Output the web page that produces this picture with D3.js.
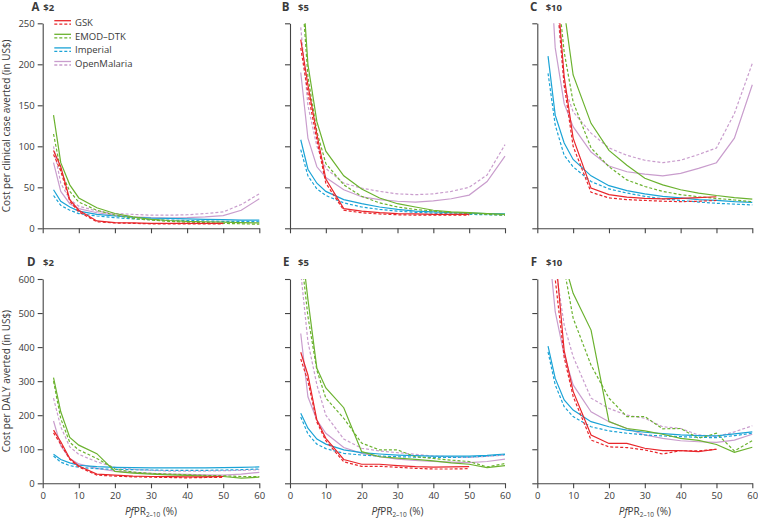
<!DOCTYPE html>
<html><head><meta charset="utf-8">
<script src="https://cdn.jsdelivr.net/npm/d3@7"></script>
<style>
body{margin:0;background:#fff}
svg{display:block}
text{font-family:"Open Sans",sans-serif;fill:#3a3a3a}
</style>
</head><body>
<svg id="c" width="758" height="518"></svg>
<script>
// ---------- data ----------
const pfpr = [3, 5, 7.5, 10, 15, 20, 25, 30, 35, 40, 45, 50, 55, 60];
const xTicks = [0, 10, 20, 30, 40, 50, 60];
const caseTicks = [0, 50, 100, 150, 200, 250];
const dalyTicks = [0, 100, 200, 300, 400, 500, 600];
const models = ["GSK", "EMOD–DTK", "Imperial", "OpenMalaria"];
const modelColors = ["#e8262b", "#6bb22f", "#1ba3d6", "#c99dcd"];
const prices = ["$2", "$5", "$10", "$2", "$5", "$10"];
const letters = ["A", "B", "C", "D", "E", "F"];
const yTitles = ["Cost per clinical case averted (in US$)", "Cost per DALY averted (in US$)"];

// Panel A: cost per clinical case averted, $2
const A_gsk    = [95, 75, 35, 22, 9, 7, 6.5, 6, 6, 6, 6, 6];
const A_gsk_d  = [90, 70, 33, 20, 8, 6.5, 6, 5.5, 5.5, 5.5, 5.5, 5.5];
const A_emod   = [138, 80, 53, 37, 25, 18, 14, 11, 9.5, 8.5, 8, 7.5, 7, 6.5];
const A_emod_d = [115, 70, 45, 32, 22, 16, 12, 10, 8.5, 7.5, 7, 6, 5.5, 5];
const A_imp    = [47, 33, 26, 21, 17, 15, 13.5, 12.5, 12, 11.5, 11, 10.5, 10, 10];
const A_imp_d  = [40, 28, 22, 18, 15, 13, 11.5, 10.5, 10, 9.5, 9, 8.5, 8.5, 8];
const A_om     = [80, 45, 30, 24, 19, 16, 14, 13, 12.5, 13, 14, 15.5, 22, 36];
const A_om_d   = [100, 55, 35, 27, 21, 18, 17, 16, 16, 16.5, 18, 20, 29, 42];

// Panel B: cost per clinical case averted, $5
const B_gsk    = [230, 175, 115, 60, 24, 21, 19, 18, 17.5, 17, 17, 17];
const B_gsk_d  = [220, 165, 108, 55, 22, 19, 17.5, 16.5, 16, 16, 16, 16];
const B_emod   = [330, 200, 130, 94, 64, 48, 37, 30, 26, 22, 20, 19, 18, 17];
const B_emod_d = [310, 185, 118, 79, 53, 39, 31, 26, 23, 21, 19, 18, 17, 16];
const B_imp    = [108, 72, 55, 45, 35, 30, 26, 23, 21, 20, 19, 18.5, 18, 17.5];
const B_imp_d  = [96, 64, 48, 40, 31, 26, 23, 21, 19.5, 18.5, 17.5, 17, 16.5, 16];
const B_om     = [190, 110, 75, 62, 47, 38.5, 35, 33, 32, 33.5, 36, 40.5, 57, 88];
const B_om_d   = [245, 150, 100, 73, 55, 49, 45, 42, 41, 42, 45, 50, 65, 102];

// Panel C: cost per clinical case averted, $10
const C_gsk    = [450, 320, 185, 110, 49, 41, 38, 36.5, 36, 36.5, 37.5, 38.5];
const C_gsk_d  = [430, 305, 175, 100, 44, 37, 35, 34, 33, 32.5, 33, 34];
const C_emod   = [650, 450, 266, 187, 128, 95, 77, 61, 53, 47, 43, 40, 37.5, 35.5];
const C_emod_d = [480, 320, 215, 154, 98, 75, 59, 51, 45, 41, 38.5, 36.5, 34.5, 32.5];
const C_imp    = [210, 138, 104, 84, 64, 52, 46, 42, 39, 37, 35, 34, 32.5, 31.5];
const C_imp_d  = [189, 126, 89, 75, 57, 48, 43, 39, 36, 34, 32, 30.5, 29.5, 28.5];
const C_om     = [370, 220, 152, 124, 93, 76, 69, 66, 64, 67, 73, 80, 110, 175];
const C_om_d   = [430, 300, 173, 142, 116, 98, 89, 83, 80, 83, 90, 98, 140, 201];

// Panel D: cost per DALY averted, $2
const D_gsk    = [156, 122, 73, 51, 27, 24, 21, 20, 19.5, 19, 19, 20];
const D_gsk_d  = [148, 115, 70, 48, 24, 21, 19, 18, 17, 16, 17, 17];
const D_emod   = [310, 210, 135, 112, 87, 35, 30, 27, 25, 23, 21, 20, 15, 18];
const D_emod_d = [300, 190, 120, 98, 73, 42, 33, 29, 27, 25, 23, 22, 20, 20];
const D_imp    = [85, 70, 60, 53, 49, 47, 46, 45.5, 45.5, 45.5, 45.5, 46, 47, 48];
const D_imp_d  = [80, 62, 52, 47, 43, 41, 40, 39, 38, 38, 38, 39, 40, 42];
const D_om     = [183, 110, 73, 57, 44, 36, 32, 29, 27, 26, 25, 24, 27, 32];
const D_om_d   = [250, 166, 107, 85, 63, 47, 41, 38, 36, 35.5, 36, 37, 38, 40];

// Panel E: cost per DALY averted, $5
const E_gsk    = [385, 318, 186, 132, 70, 56, 56, 52, 49, 47.5, 48, 49];
const E_gsk_d  = [365, 300, 180, 125, 63, 50, 50, 47, 44, 42, 42, 43];
const E_emod   = [720, 540, 338, 280, 222, 93, 78, 74, 70, 66, 60, 56, 46, 52];
const E_emod_d = [680, 490, 332, 250, 191, 118, 98, 98, 78, 73, 68, 64, 48, 58];
const E_imp    = [206, 162, 130, 115, 98, 90, 86, 83, 81, 80, 80, 80, 82, 86];
const E_imp_d  = [195, 145, 115, 102, 88, 83, 80, 78, 77, 76, 76, 77, 80, 84];
const E_om     = [440, 254, 186, 147, 105, 88, 78, 71, 67, 64, 62, 61, 64, 71];
const E_om_d   = [620, 416, 289, 200, 130, 103, 95, 90, 85, 80, 78, 76, 79, 83];

// Panel F: cost per DALY averted, $10
const F_gsk    = [900, 680, 390, 270, 142, 117, 117, 103, 96, 96, 93, 100];
const F_gsk_d  = [800, 600, 370, 255, 127, 107, 105, 98, 86, 96, 95, 100];
const F_emod   = [1200, 900, 650, 558, 450, 181, 161, 154, 144, 132, 126, 114, 91, 106];
const F_emod_d = [1000, 800, 630, 485, 347, 250, 196, 196, 160, 161, 132, 147, 95, 125];
const F_imp    = [403, 308, 245, 215, 181, 166, 156, 150, 146, 142, 140, 139, 145, 151];
const F_imp_d  = [386, 289, 225, 196, 166, 154, 147, 142, 139, 137, 135, 134, 140, 147];
const F_om     = [720, 504, 377, 289, 210, 181, 161, 142, 132, 125, 122, 120, 127, 144];
const F_om_d   = [850, 640, 465, 372, 250, 220, 200, 191, 166, 161, 142, 137, 151, 169];

// ---------- layout ----------
const panelData = [
  [[A_gsk, A_gsk_d], [A_emod, A_emod_d], [A_imp, A_imp_d], [A_om, A_om_d]],
  [[B_gsk, B_gsk_d], [B_emod, B_emod_d], [B_imp, B_imp_d], [B_om, B_om_d]],
  [[C_gsk, C_gsk_d], [C_emod, C_emod_d], [C_imp, C_imp_d], [C_om, C_om_d]],
  [[D_gsk, D_gsk_d], [D_emod, D_emod_d], [D_imp, D_imp_d], [D_om, D_om_d]],
  [[E_gsk, E_gsk_d], [E_emod, E_emod_d], [E_imp, E_imp_d], [E_om, E_om_d]],
  [[F_gsk, F_gsk_d], [F_emod, F_emod_d], [F_imp, F_imp_d], [F_om, F_om_d]]
];
const colX = [[42.7, 259.3], [290, 505], [537.3, 752.3]];
const rowY = [[228.3, 23.3], [483.3, 279]];
const letterX = [[31.5, 43.3], [281.7, 298], [530, 545.7], [27, 43], [283, 298], [530.7, 546]];
const labelY = [10.5, 265.5];

const svg = d3.select("#c");
const defs = svg.append("defs");
const drawOrder = [3, 2, 1, 0];

panelData.forEach((pd, p) => {
  const row = p < 3 ? 0 : 1, col = p % 3;
  const [x0, x1] = colX[col];
  const [yb, yt] = rowY[row];
  const x = d3.scaleLinear().domain([0, 60]).range([x0, x1]);
  const y = d3.scaleLinear().domain([0, row === 0 ? 250 : 600]).range([yb, yt]);
  const g = svg.append("g");

  const cid = "clip" + p;
  defs.append("clipPath").attr("id", cid).append("rect")
    .attr("x", x0).attr("y", yt).attr("width", x1 - x0 + 3).attr("height", yb - yt + 3);

  const line = d3.line().x((d, i) => x(pfpr[i])).y(d => y(d));
  const lg = g.append("g").attr("clip-path", `url(#${cid})`);
  drawOrder.forEach(m => {
    const [solid, dashed] = pd[m];
    lg.append("path").datum(dashed).attr("d", line)
      .attr("fill", "none").attr("stroke", modelColors[m]).attr("stroke-width", 1.2)
      .attr("stroke-dasharray", "3,2");
    lg.append("path").datum(solid).attr("d", line)
      .attr("fill", "none").attr("stroke", modelColors[m]).attr("stroke-width", 1.2);
  });

  // axes
  const xa = d3.axisBottom(x).tickValues(xTicks).tickSize(5).tickSizeOuter(0).tickPadding(4);
  if (row === 0) xa.tickFormat("");
  const gx = g.append("g").attr("transform", `translate(0,${yb})`).call(xa);
  const ya = d3.axisLeft(y).tickValues(row === 0 ? caseTicks : dalyTicks).tickSize(5).tickSizeOuter(0).tickPadding(3);
  if (col !== 0) ya.tickFormat("");
  const gy = g.append("g").attr("transform", `translate(${x0},0)`).call(ya);
  [gx, gy].forEach(a => {
    a.selectAll("path,line").attr("stroke", "#444").attr("stroke-width", 1.1);
    a.selectAll("text").attr("font-size", 9.5).attr("fill", "#3a3a3a").style("font-family", '"Open Sans",sans-serif');
  });

  // panel labels
  g.append("text").attr("x", letterX[p][0]).attr("y", labelY[row])
    .attr("font-size", 11.5).attr("font-weight", 700).text(letters[p]);
  g.append("text").attr("x", letterX[p][1]).attr("y", labelY[row])
    .attr("font-size", 9.5).attr("font-weight", 700).text(prices[p]);

  // y title
  if (col === 0) {
    g.append("text").attr("transform", `translate(10,${(yb + yt) / 2}) rotate(-90)`)
      .attr("text-anchor", "middle").attr("font-size", 10).text(yTitles[row]);
  }
  // x title
  if (row === 1) {
    const t = g.append("text").attr("x", (x0 + x1) / 2).attr("y", 515)
      .attr("text-anchor", "middle").attr("font-size", 10);
    t.append("tspan").attr("font-style", "italic").text("Pf");
    t.append("tspan").text("PR");
    t.append("tspan").attr("font-size", 6.5).attr("dy", 2).text("2–10");
    t.append("tspan").attr("dy", -2).text(" (%)");
  }

  // legend in panel A
  if (p === 0) {
    models.forEach((name, m) => {
      const ly = 20.7 + 13.6 * m;
      g.append("line").attr("x1", 54.3).attr("x2", 71).attr("y1", ly).attr("y2", ly)
        .attr("stroke", modelColors[m]).attr("stroke-width", 1.3);
      g.append("line").attr("x1", 54.3).attr("x2", 71).attr("y1", ly + 3.5).attr("y2", ly + 3.5)
        .attr("stroke", modelColors[m]).attr("stroke-width", 1.3).attr("stroke-dasharray", "3,2");
      g.append("text").attr("x", 75).attr("y", ly + 5.2).attr("font-size", 9.5).text(name);
    });
  }
});
</script>
</body></html>
